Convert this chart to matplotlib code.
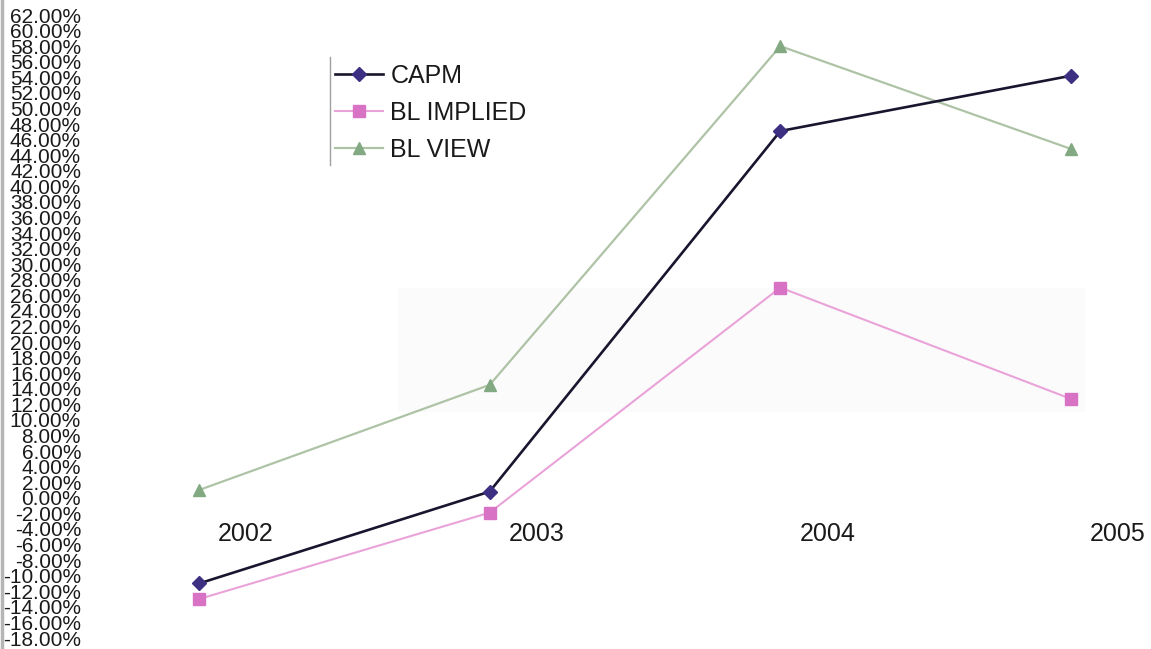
import numpy as np
import matplotlib
matplotlib.use("Agg")
import matplotlib.pyplot as plt
from matplotlib.patches import Rectangle
from matplotlib.lines import Line2D

plt.rcParams['font.family'] = ['Liberation Sans', 'DejaVu Sans']

# Annual returns (%) for each model
years = ['2002', '2003', '2004', '2005']
capm = [-11.0, 0.8, 47.1, 54.2]
bl_implied = [-13.0, -1.9, 27.0, 12.7]
bl_view = [1.0, 14.5, 58.0, 44.8]

yticks = np.arange(-18, 63, 2)

W, H = 1151, 649
fig = plt.figure(figsize=(W / 100, H / 100), dpi=100)

# axes placed in pixel terms: categories at x=199..1071, y from -18% (638px) to 62% (15px)
left_px, right_px = 88, W
top_px, bot_px = 15, 638
ax = fig.add_axes([left_px / W, (H - bot_px) / H,
                   (right_px - left_px) / W, (bot_px - top_px) / H])
ax.set_facecolor('none')

unit = (1071 - 199) / 3
ax.set_xlim(-(199 - left_px) / unit, (right_px - 199) / unit)
ax.set_ylim(-18, 62)

# faint shaded block behind the lines
fig.patches.append(Rectangle((398 / W, (H - 412) / H), (1085 - 398) / W, (412 - 288) / H,
                             transform=fig.transFigure, facecolor='#fbfbfb',
                             edgecolor='none', zorder=-1))
# thin grey rule at the left edge
fig.add_artist(Line2D([2 / W, 2 / W], [0, 1], transform=fig.transFigure,
                      color='#b5b5b5', lw=2.5))

x = np.arange(len(years))
ax.plot(x, capm, color='#18162e', lw=1.9, marker='D', markersize=7,
        markerfacecolor='#3d2f82', markeredgecolor='#3d2f82', label='CAPM', zorder=4)
ax.plot(x, bl_implied, color='#eaa3d9', lw=1.5, marker='s', markersize=8,
        markerfacecolor='#d872c4', markeredgecolor='#d872c4', label='BL IMPLIED', zorder=3)
ax.plot(x, bl_view, color='#aec3a6', lw=1.6, marker='^', markersize=9,
        markerfacecolor='#82a982', markeredgecolor='#82a982', label='BL VIEW', zorder=3)

# year labels sit just below the zero line, offset to the right of each point
for i, yr in enumerate(years):
    ax.text(i + 0.162, -4.6, yr, ha='center', va='center', fontsize=18, color='#1a1a1a')

ax.set_yticks(yticks)
ax.set_yticklabels([f'{v:.2f}%' for v in yticks], fontsize=15, color='#1a1a1a')
ax.tick_params(axis='y', length=0, pad=5)
ax.set_xticks([])
for s in ax.spines.values():
    s.set_visible(False)

leg = ax.legend(loc='upper left', bbox_to_anchor=(335 / W, (H - 64) / H),
                bbox_transform=fig.transFigure, frameon=False, fontsize=18,
                handlelength=1.9, handletextpad=0.32, labelspacing=0.52,
                borderpad=0, borderaxespad=0, labelcolor='#1a1a1a')
fig.add_artist(Line2D([330 / W, 330 / W], [(H - 165) / H, (H - 57) / H],
                      transform=fig.transFigure, color='#a0a0a0', lw=1))

fig.savefig('out.png', dpi=100)
